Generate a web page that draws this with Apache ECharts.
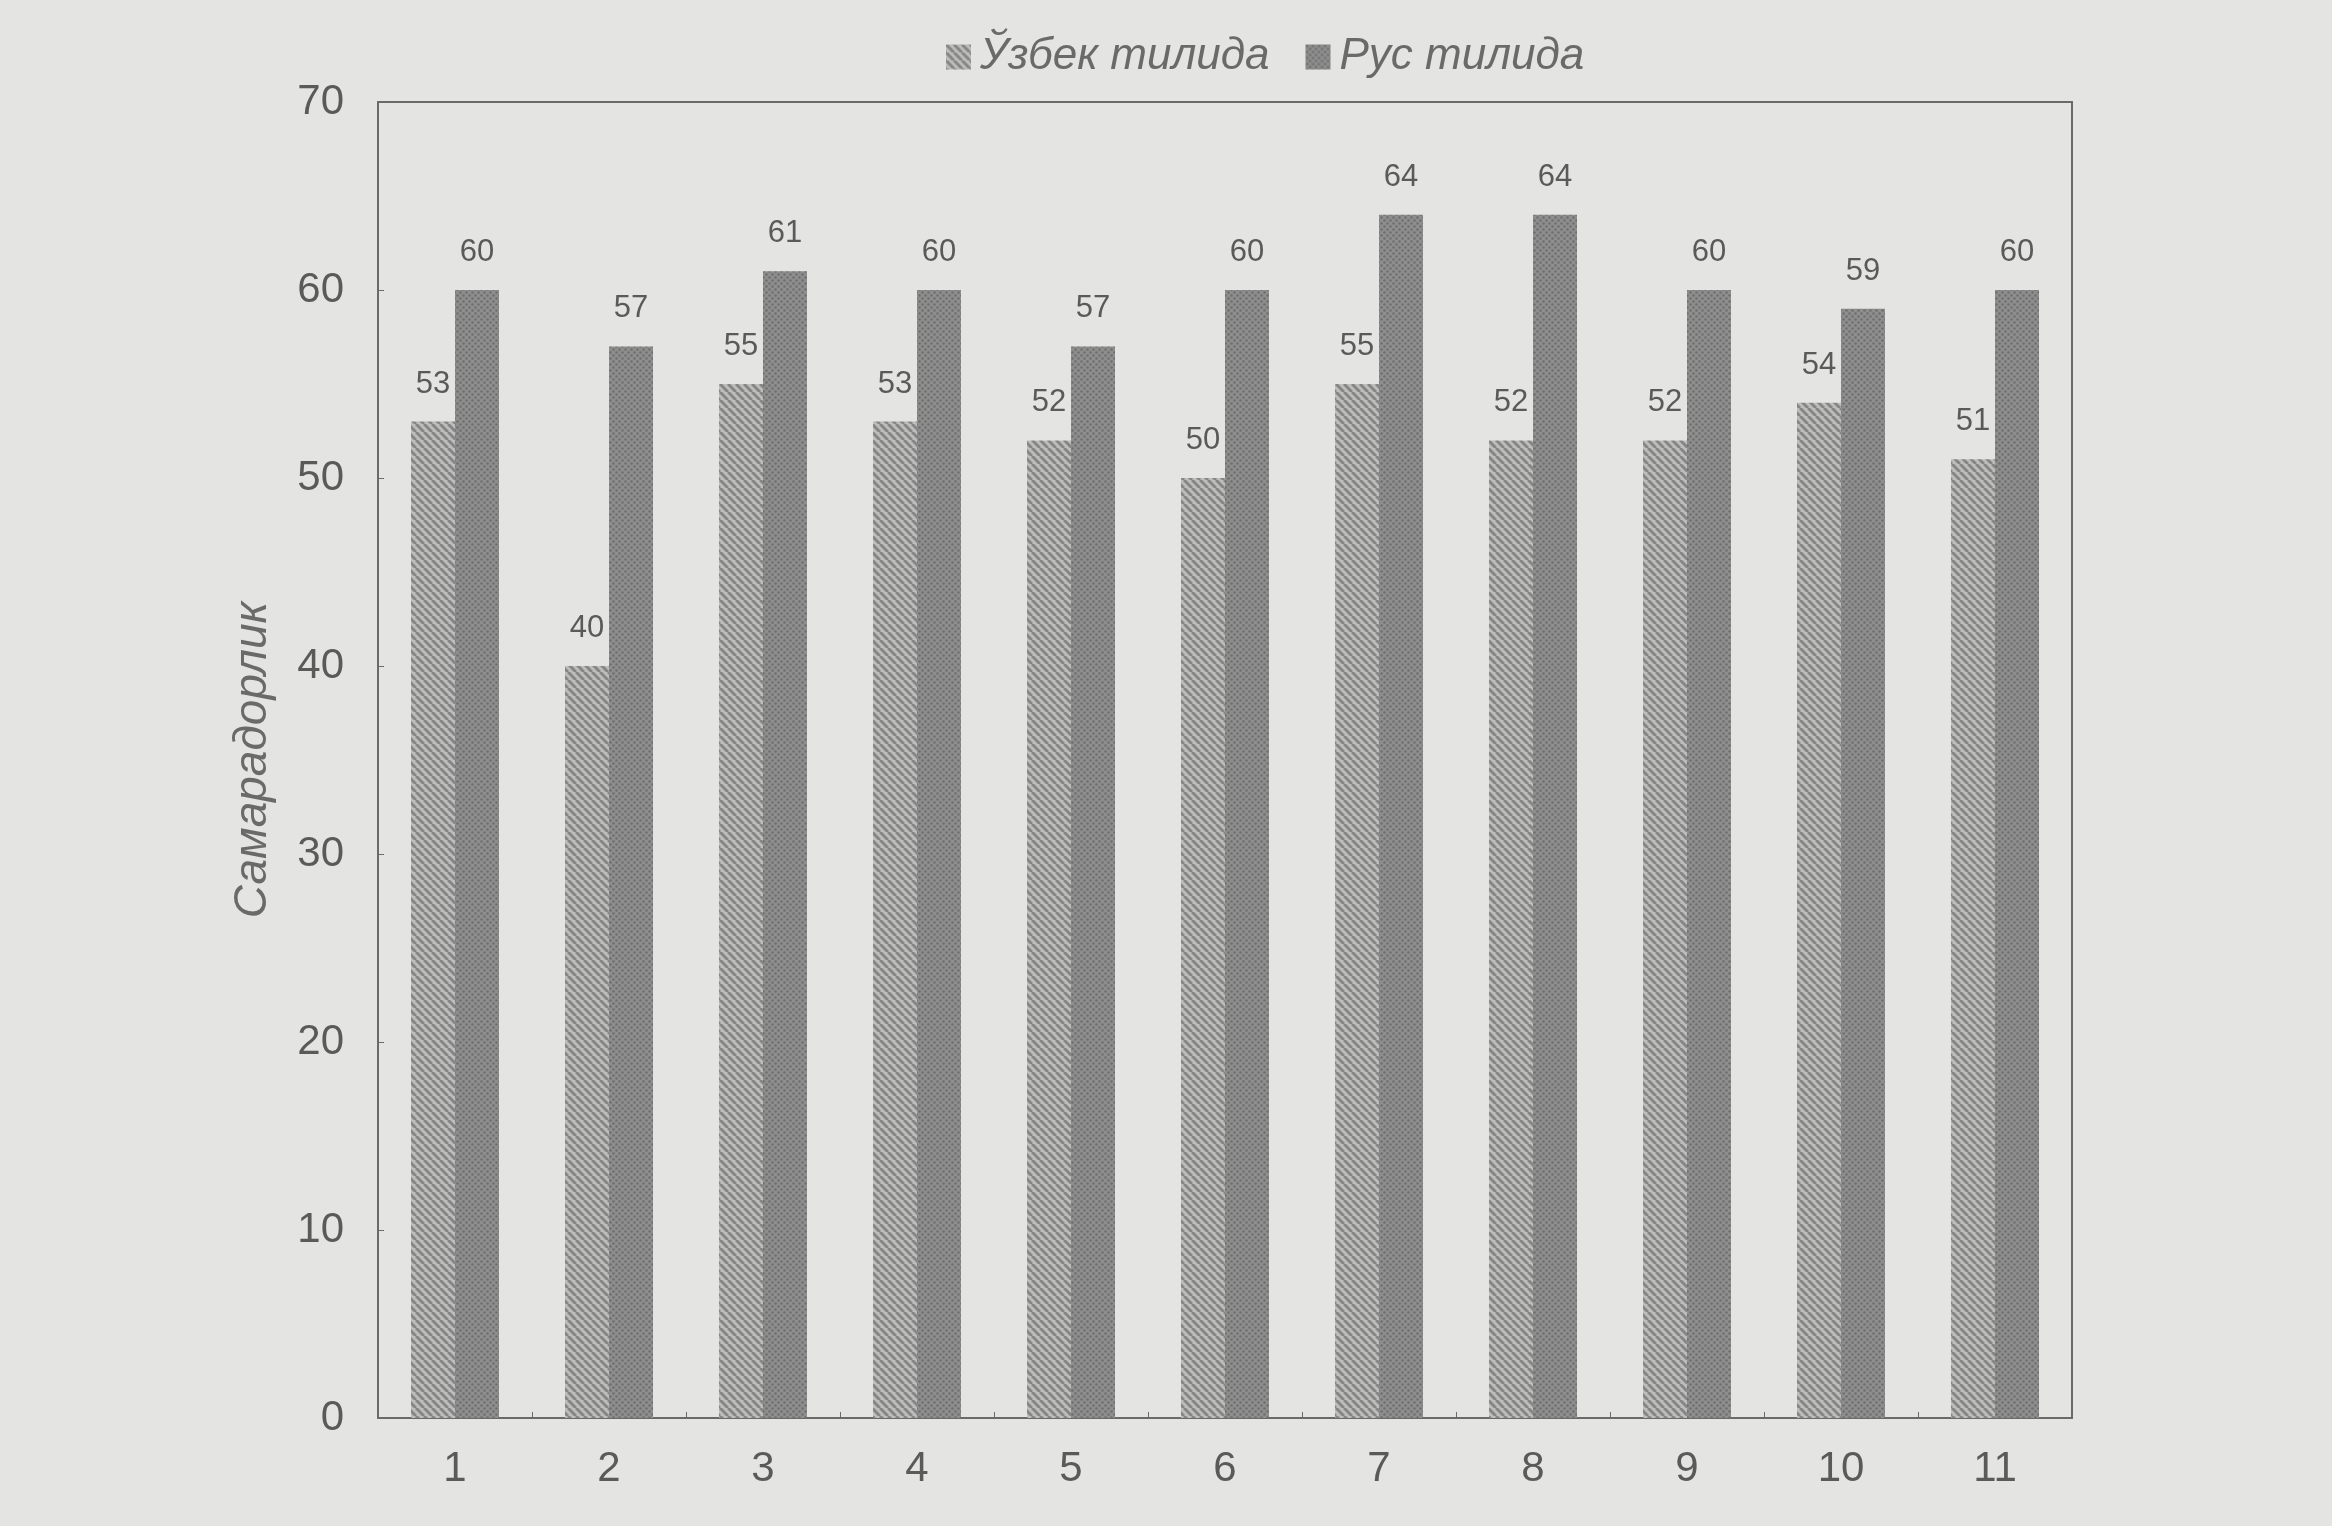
<!DOCTYPE html>
<html><head><meta charset="utf-8">
<script src="https://cdn.jsdelivr.net/npm/echarts@6/dist/echarts.min.js"></script>
<style>html,body{margin:0;padding:0;background:#e4e4e2;}#c{width:2332px;height:1526px;}</style>
</head><body><div id="c"></div>
<script>
const categories = ['1','2','3','4','5','6','7','8','9','10','11'];
const uzbekValues = [53,40,55,53,52,50,55,52,52,54,51];
const russianValues = [60,57,61,60,57,60,64,64,60,59,60];
const seriesNames = ['Ўзбек тилида','Рус тилида'];
const yAxisName = 'Самарадорлик';

function hatch(){
  const c=document.createElement('canvas');c.width=8;c.height=8;
  const g=c.getContext('2d');
  g.fillStyle='#bdbdbb';g.fillRect(0,0,8,8);
  g.strokeStyle='#868686';g.lineWidth=3;
  for(let k=-16;k<=16;k+=8){g.beginPath();g.moveTo(k,0);g.lineTo(k+8,8);g.stroke();}
  return c;
}
function dots(){
  const c=document.createElement('canvas');c.width=6;c.height=6;
  const g=c.getContext('2d');
  g.fillStyle='#8e8e8e';g.fillRect(0,0,6,6);
  g.fillStyle='#6f6f6f';
  g.beginPath();g.arc(1.5,1.5,1.3,0,Math.PI*2);g.fill();
  g.beginPath();g.arc(4.5,4.5,1.3,0,Math.PI*2);g.fill();
  return c;
}
const chart=echarts.init(document.getElementById('c'));
const txt='#5a5a5a';
const ff='Liberation Sans, Arial, sans-serif';
chart.setOption({
  backgroundColor:'#e4e4e2',
  animation:false,
  legend:{top:30,left:941,icon:'rect',itemWidth:25,itemHeight:25,itemGap:36,
    textStyle:{fontSize:44,fontStyle:'italic',color:'#6a6a6a',fontFamily:ff,padding:[0,0,0,4]},
    data:seriesNames},
  grid:{left:378,right:260,top:102,bottom:108,show:true,borderColor:'#6a6a6a',borderWidth:2,backgroundColor:'transparent'},
  xAxis:{type:'category',data:categories,
    axisLine:{lineStyle:{color:'#6a6a6a',width:2}},
    axisTick:{show:true,inside:true,length:6,lineStyle:{color:'#6a6a6a'}},
    axisLabel:{fontSize:42,color:txt,margin:30,fontFamily:ff}},
  yAxis:{type:'value',min:0,max:70,interval:10,
    name:yAxisName,nameLocation:'middle',nameGap:102,
    nameTextStyle:{fontSize:46,fontStyle:'italic',color:'#6a6a6a',fontFamily:ff},
    axisLine:{show:true,lineStyle:{color:'#6a6a6a',width:2}},
    axisTick:{show:true,inside:true,length:6,lineStyle:{color:'#6a6a6a'}},
    splitLine:{show:false},
    axisLabel:{fontSize:42,color:txt,margin:34,fontFamily:ff}},
  series:[
    {name:seriesNames[0],type:'bar',data:uzbekValues,barWidth:44,barGap:'0%',
     itemStyle:{color:{image:hatch(),repeat:'repeat'}},
     label:{show:true,position:'top',distance:22,fontSize:31,color:txt,fontFamily:'Liberation Sans Narrow, Liberation Sans, Arial, sans-serif'}},
    {name:seriesNames[1],type:'bar',data:russianValues,barWidth:44,
     itemStyle:{color:{image:dots(),repeat:'repeat'}},
     label:{show:true,position:'top',distance:22,fontSize:31,color:txt,fontFamily:'Liberation Sans Narrow, Liberation Sans, Arial, sans-serif'}}
  ]
});
</script></body></html>
